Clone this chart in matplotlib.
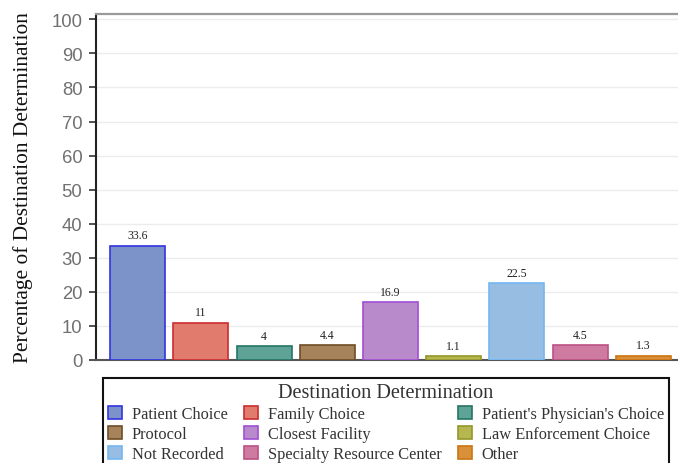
import matplotlib.pyplot as plt
import numpy as np

# Destination determination shares (percent)
categories = ["Patient Choice", "Family Choice", "Patient's Physician's Choice",
              "Protocol", "Closest Facility", "Law Enforcement Choice",
              "Not Recorded", "Specialty Resource Center", "Other"]
values = [33.6, 11, 4, 4.4, 16.9, 1.1, 22.5, 4.5, 1.3]
value_labels = ["33.6", "11", "4", "4.4", "16.9", "1.1", "22.5", "4.5", "1.3"]

face_colors = ["#7b93c9", "#e07b6e", "#5fa396", "#a6835a", "#b98acb",
               "#b5b84e", "#97bde3", "#cf7aa0", "#d8913a"]
edge_colors = ["#3434e0", "#cc2e2e", "#257565", "#6e4e26", "#a04ed4",
               "#95962a", "#74b6f2", "#bb5285", "#cc7410"]

serif = ["Liberation Serif", "DejaVu Serif"]

fig = plt.figure(figsize=(6.78, 4.64), dpi=100)
ax = fig.add_axes([0.142, 0.222, 0.858, 0.746])

x = np.arange(len(values))
bars = ax.bar(x, values, width=0.87, color=face_colors, edgecolor=edge_colors,
              linewidth=1.2, label=categories, zorder=3)

for xi, v, lab in zip(x, values, value_labels):
    ax.text(xi, v + 1.2, lab, ha="center", va="bottom", fontsize=8.5,
            family=serif, color="#222222")

ax.set_xlim(-0.655, 8.55)
ax.set_ylim(0, 101.6)
ax.set_yticks(range(0, 101, 10))
ax.set_xticks([])
ax.grid(axis="y", color="#ececec", linewidth=1.0, zorder=0)

ax.spines["right"].set_visible(False)
ax.spines["top"].set_color("#9a9a9a")
ax.spines["top"].set_linewidth(1.6)
ax.spines["left"].set_color("#222222")
ax.spines["left"].set_linewidth(1.5)
ax.spines["bottom"].set_color("#555555")
ax.spines["bottom"].set_linewidth(1.5)
ax.tick_params(axis="y", length=5, width=1.2, color="#333333",
               labelsize=13.3, labelcolor="#707070", pad=5)
for t in ax.get_yticklabels():
    t.set_family(["Liberation Sans", "DejaVu Sans"])

ax.set_ylabel("Percentage of Destination Determination", family=serif,
              fontsize=15.4, color="#111111")
ax.yaxis.set_label_coords(-0.108, 0.5)

# legend filled row by row across three columns
order = [0, 3, 6, 1, 4, 7, 2, 5, 8]
handles = [bars[i] for i in order]
labels = [categories[i] for i in order]
leg = fig.legend(handles, labels, loc="upper left", ncol=3,
                 bbox_to_anchor=(0.152, 0.183),
                 title="Destination Determination", frameon=True,
                 fancybox=False, edgecolor="#111111", framealpha=1,
                 prop={"family": serif, "size": 11.8},
                 title_fontproperties={"family": serif, "size": 14.6},
                 handlelength=0.85, handleheight=0.85, handletextpad=0.6,
                 columnspacing=1.0, labelspacing=0.24, borderpad=0.3,
                 borderaxespad=0)
leg.get_frame().set_linewidth(1.5)
leg.get_title().set_color("#333333")
for t in leg.get_texts():
    t.set_color("#333333")

fig.savefig("out.png", dpi=100)
